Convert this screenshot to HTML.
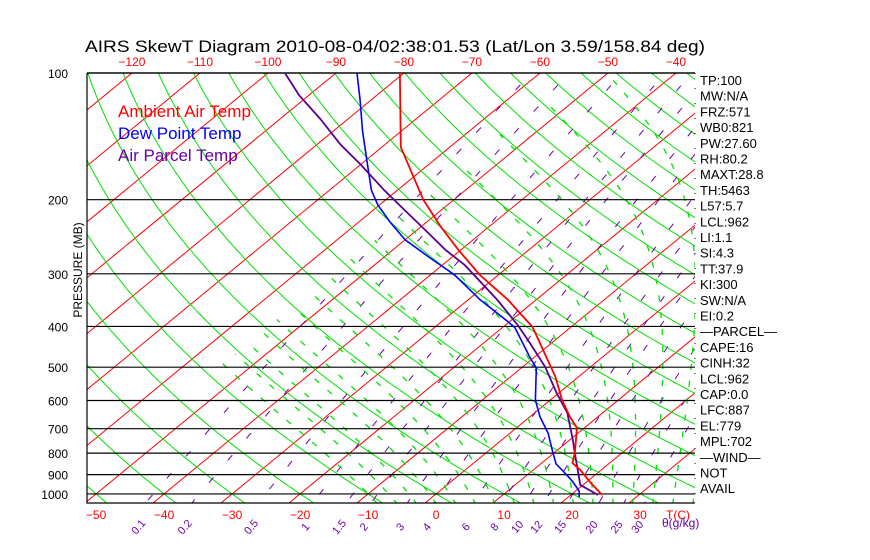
<!DOCTYPE html>
<html><head><meta charset="utf-8"><style>
html,body{margin:0;padding:0;background:#fff;}
svg{display:block;font-family:"Liberation Sans",sans-serif;}
</style></head><body>
<svg id="chart" width="870" height="560" viewBox="0 0 870 560" xmlns="http://www.w3.org/2000/svg">
<defs><clipPath id="box"><rect x="87" y="73" width="608" height="430"/></clipPath></defs>
<text x="85" y="52" font-size="17" textLength="620" lengthAdjust="spacingAndGlyphs">AIRS SkewT Diagram 2010-08-04/02:38:01.53 (Lat/Lon 3.59/158.84 deg)</text>
<g id="bg" clip-path="url(#box)"></g>
<g id="lines"></g>
<g id="profiles" clip-path="url(#box)"></g>
<g id="labels"></g>
</svg>
<script>
const pressureTicks=[100,200,300,400,500,600,700,800,900,1000];
const topTempTicks=[-120,-110,-100,-90,-80,-70,-60,-50,-40];
const bottomTempTicks=[-50,-40,-30,-20,-10,0,10,20,30];
const mixingRatios=[0.1,0.2,0.5,1,1.5,2,3,4,6,8,10,12,15,20,25,30];
const tempP=[100,150,175,200,230,263,302,346,372,401,455,527,598,656,697,732,800,844,877,937,1006];
const tempT=[-80.6,-67.2,-60.4,-54.5,-47.5,-40.4,-32.7,-24.1,-20.0,-15.7,-10.0,-3.4,1.7,5.9,8.9,10.4,13.1,14.5,16.9,20.5,24.6];
const dewP=[100,116,137,161,190,206,226,249,275,302,346,390,403,473,502,598,656,717,800,849,892,937,984,1017];
const dewT=[-86.9,-81.6,-75.8,-69.9,-63.8,-60.2,-55.4,-50.0,-43.1,-36.4,-28.2,-20.2,-18.1,-10.7,-7.8,-2.2,1.5,5.6,9.9,12.3,15.2,18.0,20.5,21.6];
const parcelP=[100,113,129,148,165,190,212,236,263,286,346,397,438,499,576,642,745,800,952,1006];
const parcelT=[-97.5,-91.4,-83.9,-76.5,-70.0,-61.9,-55.3,-48.8,-42.3,-36.7,-25.7,-18.2,-13.2,-6.7,-0.3,4.8,10.5,13.1,19.6,24.0];
const indices=["TP:100","MW:N/A","FRZ:571","WB0:821","PW:27.60","RH:80.2","MAXT:28.8","TH:5463","L57:5.7","LCL:962","LI:1.1","SI:4.3","TT:37.9","KI:300","SW:N/A","EI:0.2","\u2014PARCEL\u2014","CAPE:16","CINH:32","LCL:962","CAP:0.0","LFC:887","EL:779","MPL:702","\u2014WIND\u2014","NOT","AVAIL"];

const NS="http://www.w3.org/2000/svg";
function yOf(p){return 73+182.8*Math.log(p/100);}
function xOf(T,p){return 436+6.8*T+1.216*(494-yOf(p));}
function mk(tag,attrs,parent){const e=document.createElementNS(NS,tag);for(const k in attrs)e.setAttribute(k,attrs[k]);parent.appendChild(e);return e;}
const bg=document.getElementById('bg'),lines=document.getElementById('lines'),prof=document.getElementById('profiles'),lab=document.getElementById('labels');
const pGrid=[];for(let p=95;p<=1060;p+=5)pGrid.push(p);

for(let T=-160;T<=50;T+=10){
  const l=mk('line',{x1:xOf(T,95),y1:yOf(95),x2:xOf(T,1060),y2:yOf(1060),stroke:'#ff0000','stroke-width':1},bg);
  
  
}
for(let th=-60;th<=260;th+=10){
  const pts=pGrid.map(p=>{const T=(th+273.15)*Math.pow(p/1000,0.2857)-273.15;return xOf(T,p).toFixed(1)+','+yOf(p).toFixed(1);});
  const l=mk('polyline',{points:pts.join(' '),fill:'none',stroke:'#00e000','stroke-width':1},bg);
  
  
}
function tw(w,p){const e=w*p/(622+w);const a=Math.log(e/6.112);return 243.5*a/(17.67-a);}
mixingRatios.forEach(w=>{
  const pts=pGrid.map(p=>xOf(tw(w,p),p).toFixed(1)+','+yOf(p).toFixed(1));
  const l=mk('polyline',{points:pts.join(' '),fill:'none',stroke:'#6a00a8','stroke-width':1,'stroke-dasharray':'7,22'},bg);
  
  
});
function es(T){return 6.112*Math.exp(17.67*T/(T+243.5));}
function step(T,p,dp){const rs=0.622*es(T-273.15)/(p-es(T-273.15));const num=287*T+2.5e6*rs;const den=1004+2.5e6*2.5e6*rs*0.622/(287*T*T);return T+dp*num/(p*den);}
for(let tw0=-10;tw0<=38;tw0+=3){
  const T=tw0+273.15;
  let Tu=T,pu=1000;const up=[];
  while(pu>=95){up.push([Tu,pu]);Tu=step(Tu,pu,-5);pu-=5;}
  let Td=T,pd=1000;const dn=[];
  while(pd<=1060){dn.push([Td,pd]);Td=step(Td,pd,5);pd+=5;}
  const all=dn.reverse().concat(up.slice(1)).filter(a=>a[0]-273.15>-55);
  if(all.length<2)continue;
  const l=mk('polyline',{points:all.map(a=>xOf(a[0]-273.15,a[1]).toFixed(1)+','+yOf(a[1]).toFixed(1)).join(' '),fill:'none',stroke:'#00e000','stroke-width':1.3,'stroke-dasharray':'6,11'},bg);
  
  
}
pressureTicks.forEach(p=>{
  const l=mk('line',{x1:87,x2:695,y1:yOf(p),y2:yOf(p),stroke:'#000','stroke-width':1.2},lines);
  
  
  const t=mk('text',{x:68,y:yOf(p)+5,'font-size':12,'text-anchor':'end'},lab);t.textContent=p;
  
  
});
const frame=mk('path',{d:'M87,73 L695,73 M87,73 L87,503 L695,503',stroke:'#000','stroke-width':1.2,fill:'none'},lines);


const rEdge=mk('line',{x1:695,y1:73,x2:695,y2:503,stroke:'#000','stroke-width':1,'stroke-dasharray':'1,14'},lines);


function prof1(P,T,color,w){
  const pts=P.map((p,i)=>xOf(T[i],p).toFixed(1)+','+yOf(p).toFixed(1));
  return mk('polyline',{points:pts.join(' '),fill:'none',stroke:color,'stroke-width':w},prof);
}
const l1=prof1(dewP,dewT,'#0000ff',1.6);


const l2=prof1(parcelP,parcelT,'#5a0090',1.8);


const l3=prof1(tempP,tempT,'#ff0000',1.8);


topTempTicks.forEach(T=>{
  const t=mk('text',{x:xOf(T,100),y:66,'font-size':12,fill:'#ff0000','text-anchor':'middle'},lab);t.textContent=(T<0?'\u2212':'')+Math.abs(T);
  
  
});
bottomTempTicks.forEach(T=>{
  const t=mk('text',{x:xOf(T,1000),y:519,'font-size':12,fill:'#ff0000','text-anchor':'middle'},lab);t.textContent=(T<0?'\u2212':'')+Math.abs(T);
  
  
});
const tc=mk('text',{x:666,y:519,'font-size':12,fill:'#ff0000'},lab);tc.textContent='T(C)';


mixingRatios.forEach(w=>{
  const x=xOf(tw(w,1050),1050)-6;
  const t=mk('text',{x:x,y:530,'font-size':11,fill:'#6a00a8','text-anchor':'middle',transform:'rotate(-50 '+x+' 528)'},lab);t.textContent=w;
  
  
});
const wu=mk('text',{x:662,y:527,'font-size':12,fill:'#6a00a8'},lab);wu.textContent='\u03b8(g/kg)';


const yt=mk('text',{x:82,y:270,'font-size':12,'text-anchor':'middle',transform:'rotate(-90 82 270)'},lab);yt.textContent='PRESSURE (MB)';


[['Ambient Air Temp','#ff0000',117],['Dew Point Temp','#0000ff',139],['Air Parcel Temp','#6a00a8',161]].forEach(a=>{
  const t=mk('text',{x:118,y:a[2],'font-size':17,fill:a[1]},lab);t.textContent=a[0];
  
  
});
indices.forEach((s,i)=>{
  const t=mk('text',{x:700,y:85+i*15.7,'font-size':13},lab);t.textContent=s;
  
  
});
</script>
</body></html>
